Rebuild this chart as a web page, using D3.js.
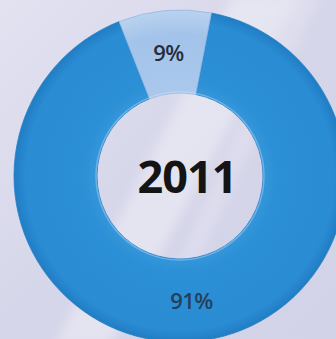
<!DOCTYPE html>
<html>
<head>
<meta charset="utf-8">
<script src="https://cdn.jsdelivr.net/npm/d3@7"></script>
<style>
  html, body { margin: 0; padding: 0; background: #d6d6ea; overflow: hidden; }
  svg { display: block; }
</style>
</head>
<body>
<svg id="chart" width="336" height="339"></svg>
<script>
// Share of the year split into two parts
const categories = ["Main", "Other"];
const values = [91, 9];
const labels = ["91%", "9%"];
const centerTitle = "2011";

const width = 336, height = 339;
const cx = 180, cy = 176;
const outerR = 166, innerR = 83;

const svg = d3.select("#chart");
const defs = svg.append("defs");

// Background: lavender with soft diagonal light bands
const bg = defs.append("linearGradient").attr("id", "bg")
  .attr("x1", "0").attr("y1", "0").attr("x2", "1").attr("y2", "1");
bg.append("stop").attr("offset", "0%").attr("stop-color", "#e2e2f1");
bg.append("stop").attr("offset", "50%").attr("stop-color", "#d6d6ea");
bg.append("stop").attr("offset", "100%").attr("stop-color", "#d2d2e8");
svg.append("rect").attr("width", width).attr("height", height).attr("fill", "url(#bg)");

const blur = defs.append("filter").attr("id", "soft").attr("x", "-50%").attr("y", "-50%")
  .attr("width", "200%").attr("height", "200%");
blur.append("feGaussianBlur").attr("stdDeviation", 6);

const bands = svg.append("g").attr("filter", "url(#soft)");
bands.append("path")
  .attr("d", "M55,345 L110,345 L300,-5 L235,-5 Z")
  .attr("fill", "#ffffff").attr("opacity", 0.35);
bands.append("path")
  .attr("d", "M140,345 L160,345 L320,-5 L300,-5 Z")
  .attr("fill", "#ffffff").attr("opacity", 0.18);

// Slice fills, shaded from the ring's middle out to its edges
const mainGrad = defs.append("radialGradient").attr("id", "mainFill")
  .attr("gradientUnits", "userSpaceOnUse")
  .attr("cx", 0).attr("cy", 0).attr("r", outerR);
mainGrad.append("stop").attr("offset", "50%").attr("stop-color", "#3596da");
mainGrad.append("stop").attr("offset", "58%").attr("stop-color", "#2c90d6");
mainGrad.append("stop").attr("offset", "93%").attr("stop-color", "#2a8cd3");
mainGrad.append("stop").attr("offset", "100%").attr("stop-color", "#217dc4");

const otherGrad = defs.append("radialGradient").attr("id", "otherFill")
  .attr("gradientUnits", "userSpaceOnUse")
  .attr("cx", 0).attr("cy", 0).attr("r", outerR);
otherGrad.append("stop").attr("offset", "50%").attr("stop-color", "#aac8ec");
otherGrad.append("stop").attr("offset", "85%").attr("stop-color", "#a3c3ea");
otherGrad.append("stop").attr("offset", "100%").attr("stop-color", "#b9d2ef");

const fills = ["url(#mainFill)", "url(#otherFill)"];

const pie = d3.pie().sort(null)
  .startAngle(0.19)
  .endAngle(0.19 + 2 * Math.PI);
const arcs = pie(values);

const arc = d3.arc().innerRadius(innerR).outerRadius(outerR);

const g = svg.append("g").attr("transform", `translate(${cx},${cy})`);

g.selectAll("path.slice")
  .data(arcs)
  .join("path")
  .attr("class", "slice")
  .attr("d", arc)
  .attr("fill", (d, i) => fills[i])
  .attr("stroke", (d, i) => i === 0 ? "#2380c6" : "#93b8e2")
  .attr("stroke-width", 0.8);

// Soft highlight along the hole edge
g.append("circle")
  .attr("r", innerR + 1)
  .attr("fill", "none")
  .attr("stroke", "#dfe8f8")
  .attr("stroke-opacity", 0.35)
  .attr("stroke-width", 1.5);

// Value labels at slice centroids
const labelArc = d3.arc().innerRadius(innerR).outerRadius(outerR);
g.selectAll("text.value")
  .data(arcs)
  .join("text")
  .attr("class", "value")
  .attr("x", d => labelArc.centroid(d)[0])
  .attr("y", d => labelArc.centroid(d)[1])
  .attr("text-anchor", "middle")
  .attr("dominant-baseline", "central")
  .attr("font-family", "'Open Sans', 'Noto Sans', sans-serif")
  .attr("font-weight", 600)
  .attr("font-size", 22)
  .attr("fill", (d, i) => i === 0 ? "#24405c" : "#272c38")
  .attr("letter-spacing", "-0.5")
  .text((d, i) => labels[i]);

// Year in the centre
g.append("text")
  .attr("x", 7)
  .attr("y", 17)
  .attr("text-anchor", "middle")
  .attr("font-family", "'Open Sans', 'Noto Sans', sans-serif")
  .attr("font-weight", "bold")
  .attr("font-size", 45)
  .attr("fill", "#141414")
  .attr("letter-spacing", "-1")
  .text(centerTitle);
</script>
</body>
</html>
